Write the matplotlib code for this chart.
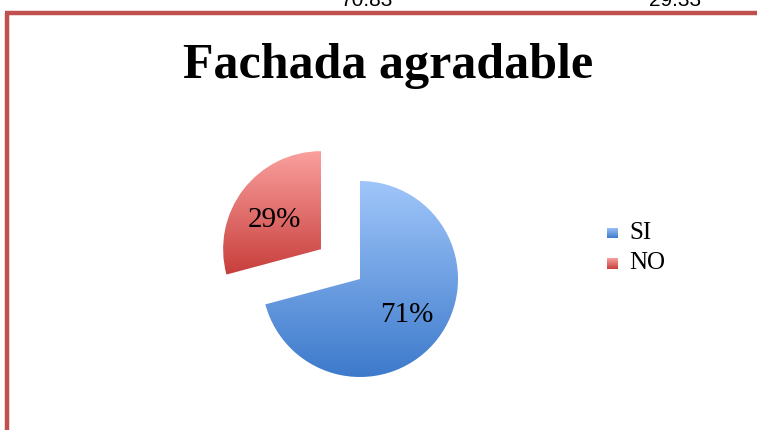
import numpy as np
import matplotlib
matplotlib.use("Agg")
import matplotlib.pyplot as plt
from matplotlib.colors import LinearSegmentedColormap
from matplotlib.lines import Line2D

# data
labels = ["SI", "NO"]
values = [70.83, 29.17]
top_values = ["70.83", "29.33"]
title = "Fachada agradable"

# gradient colours (top, bottom) per slice
grad_colors = [("#A0C6FA", "#3D7ACB"), ("#FAA09E", "#C73E3B")]
border = "#C0504D"

serif = ["Liberation Serif", "DejaVu Serif"]

fig = plt.figure(figsize=(7.57, 4.30), dpi=100)

# border lines (left and top)
fig.add_artist(Line2D([7 / 757, 7 / 757], [0, 1 - 12.5 / 430], color=border, lw=3.2,
                      transform=fig.transFigure, solid_capstyle="butt"))
fig.add_artist(Line2D([5 / 757, 1], [1 - 12.5 / 430, 1 - 12.5 / 430], color=border, lw=3.2,
                      transform=fig.transFigure, solid_capstyle="butt"))

# cut-off numbers above the frame
for txt, xp in zip(top_values, [367, 675]):
    fig.text(xp / 757, 1 - 6 / 430, txt, ha="center", va="baseline",
             fontsize=15, family="Liberation Sans")

fig.text(388 / 757, 1 - 78 / 430, title, ha="center", va="baseline",
         fontsize=36, fontweight="bold", family=serif)

# pie axes: center ~ (360, 279) px, radius ~ 98 px
lim = 1.5
size = 98 * 2 * lim
ax = fig.add_axes([(360 - size / 2) / 757, (151 - size / 2) / 430, size / 757, size / 430])
wedges, texts, autotexts = ax.pie(values, startangle=90, counterclock=False,
                                  explode=[0, 0.5], autopct="%1.0f%%", pctdistance=0.6,
                                  textprops=dict(fontsize=21, family=serif))


def gradient_fill(axis, ctop, cbot, extent, clip=None):
    cmap = LinearSegmentedColormap.from_list("g", [cbot, ctop])
    grad = np.linspace(0, 1, 256).reshape(-1, 1)
    im = axis.imshow(grad, cmap=cmap, origin="lower", aspect="auto",
                     extent=extent, zorder=1)
    if clip is not None:
        im.set_clip_path(clip)
    return im


for w, (ctop, cbot) in zip(wedges, grad_colors):
    ext = w.get_path().get_extents()
    gradient_fill(ax, ctop, cbot, [ext.x0, ext.x1, ext.y0, ext.y1], clip=w)
    w.set_facecolor("none")
    w.set_edgecolor("none")
for t in autotexts:
    t.set_zorder(3)

# the small slice's label sits a little lower in the original
cx, cy = wedges[1].center
ang = np.deg2rad(148)
autotexts[1].set_position((cx + 0.56 * np.cos(ang), cy + 0.56 * np.sin(ang)))

ax.set_xlim(-lim, lim)
ax.set_ylim(-lim, lim)
ax.set_aspect("equal")
ax.axis("off")

# legend
for i, (lab, (ctop, cbot)) in enumerate(zip(labels, grad_colors)):
    yc = 233 + 30 * i
    sq = fig.add_axes([607 / 757, 1 - (yc + 5.5) / 430, 11 / 757, 11 / 430])
    gradient_fill(sq, ctop, cbot, [0, 1, 0, 1])
    sq.axis("off")
    fig.text(629 / 757, 1 - yc / 430, lab, ha="left", va="center", fontsize=18, family=serif)

fig.savefig("out.png", dpi=100)
